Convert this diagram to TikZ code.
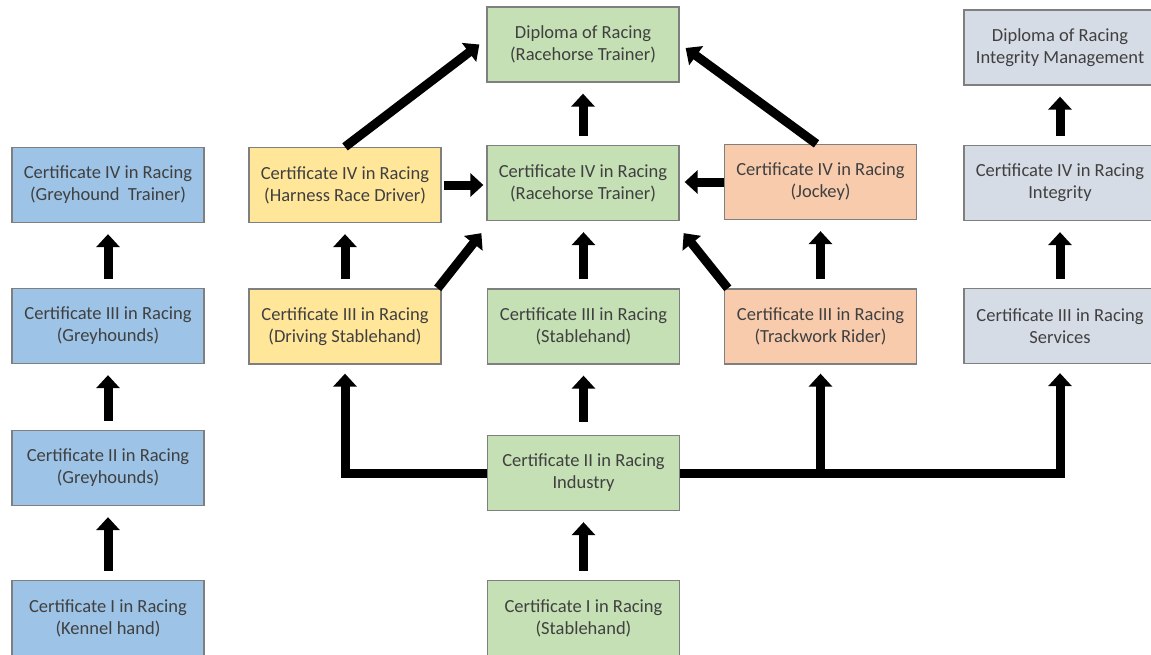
\documentclass[tikz,border=0pt]{standalone}
\usepackage{fontspec}
\setmainfont{Carlito}
\usetikzlibrary{arrows.meta,calc}
\definecolor{cblue}{HTML}{9DC3E6}
\definecolor{cyellow}{HTML}{FFE699}
\definecolor{cgreen}{HTML}{C5E0B4}
\definecolor{corange}{HTML}{F8CBAD}
\definecolor{cgrey}{HTML}{D6DCE5}
\definecolor{boxline}{HTML}{7F7F7F}
\definecolor{txt}{HTML}{404040}
\begin{document}
\begin{tikzpicture}[x=1pt,y=-1pt,
  box/.style={draw=boxline, line width=1.3pt, minimum width=192pt, minimum height=75pt,
    align=center, text=txt, inner sep=0pt, font=\fontsize{18.5}{22}\selectfont},
  bluebox/.style={box, fill=cblue},
  yellowbox/.style={box, fill=cyellow},
  greenbox/.style={box, fill=cgreen},
  orangebox/.style={box, fill=corange},
  greybox/.style={box, fill=cgrey},
  arr/.style={line width=9pt, black, -{Triangle[length=13pt 0, width=23pt 0]}},
  varr/.style={arr, shorten <=9pt, shorten >=11pt},
]
\path[use as bounding box, clip] (0,0) rectangle (1151,654);
\fill[white] (0,0) rectangle (1151,654);

% left column
\node[bluebox] (g4) at (108,185) {Certificate IV in Racing\\(Greyhound~ Trainer)};
\node[bluebox] (g3) at (108,326) {Certificate III in Racing\\(Greyhounds)};
\node[bluebox] (g2) at (108,468) {Certificate II in Racing\\(Greyhounds)};
\node[bluebox] (g1) at (108,618) {Certificate I in Racing\\(Kennel hand)};

% harness
\node[yellowbox] (har) at (345,185) {Certificate IV in Racing\\(Harness Race Driver)};
\node[yellowbox] (drv) at (345,326.5) {Certificate III in Racing\\(Driving Stablehand)};

% racehorse
\node[greenbox] (dip) at (583,44.5) {Diploma of Racing\\(Racehorse Trainer)};
\node[greenbox] (rh4) at (583,183) {Certificate IV in Racing\\(Racehorse Trainer)};
\node[greenbox] (st3) at (583.5,326.5) {Certificate III in Racing\\(Stablehand)};
\node[greenbox] (ind) at (583.5,473) {Certificate II in Racing\\Industry};
\node[greenbox] (st1) at (583.5,618) {Certificate I in Racing\\(Stablehand)};

% jockey
\node[orangebox] (joc) at (820.5,182) {Certificate IV in Racing\\(Jockey)};
\node[orangebox] (trk) at (820.5,326.5) {Certificate III in Racing\\(Trackwork Rider)};

% integrity
\node[greybox] (dint) at (1060,47.5) {Diploma of Racing\\Integrity Management};
\node[greybox] (int4) at (1060,183) {Certificate IV in Racing\\Integrity};
\node[greybox] (svc) at (1060,326) {Certificate III in Racing\\Services};

% vertical arrows
\draw[varr] (g1) -- (g2);
\draw[varr] (g2) -- (g3);
\draw[varr] (g3) -- (g4);
\draw[varr] (drv) -- (har);
\draw[varr] (st3.north) -- (st3.north |- rh4.south);
\draw[varr] (rh4) -- (dip);
\draw[varr] (st1) -- (ind);
\draw[arr, shorten <=13pt, shorten >=11pt] (ind) -- (st3);
\draw[varr] (trk) -- (joc);
\draw[varr] (svc) -- (int4);
\draw[varr] (int4) -- (dint);

% horizontal arrows
\draw[arr, shorten <=2pt, shorten >=3pt] (har.east) -- (har.east -| rh4.west);
\draw[arr, shorten >=5pt] (joc.west) -- (joc.west -| rh4.east);

% diagonal arrows
\draw[arr] (har.north) -- ($(dip.west)+(-7,0)$);
\draw[arr] ([xshift=-4pt]joc.north) -- ($(dip.east)+(6,3.5)$);
\draw[arr] ([xshift=-4pt]drv.north east) -- ($(rh4.south west)+(-5,12)$);
\draw[arr] ([xshift=4pt]trk.north west) -- ($(rh4.south east)+(4,12)$);

% industry branches
\draw[arr, shorten >=9pt] (ind.west) -| (drv.south);
\draw[arr, shorten >=9pt] (ind.east) -| (svc.south);
\draw[arr, shorten >=9pt] (ind.east -| trk.south) -- (trk.south);
\end{tikzpicture}
\end{document}
